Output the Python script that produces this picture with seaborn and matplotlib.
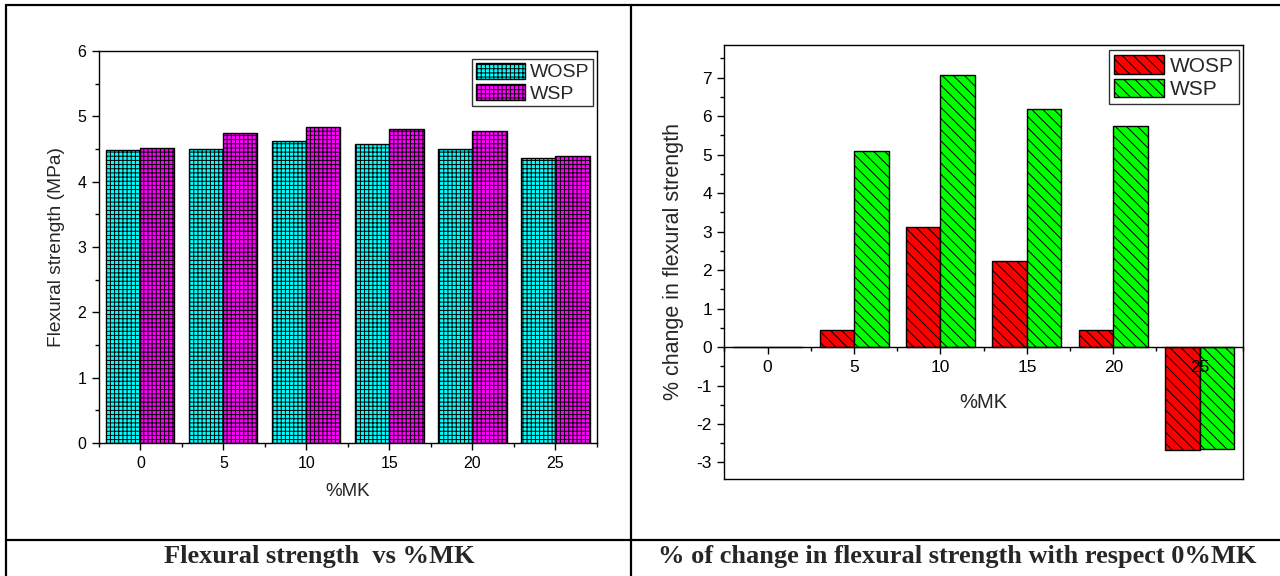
## IMPORTING
import numpy as np
import pandas as pd
import seaborn as sns
import matplotlib.pyplot as plt
import matplotlib.patches as mpatches
from matplotlib.lines import Line2D
from matplotlib.ticker import MultipleLocator


## DATA
mk = ['0', '5', '10', '15', '20', '25']
series = ['WOSP', 'WSP']
strength_wosp = [4.48, 4.50, 4.62, 4.58, 4.50, 4.36]
strength_wsp = [4.52, 4.75, 4.84, 4.80, 4.78, 4.40]
change_wosp = [0.0, 0.45, 3.12, 2.23, 0.45, -2.68]
change_wsp = [0.0, 5.09, 7.08, 6.19, 5.75, -2.65]
captions = ['Flexural strength  vs %MK',
            '% of change in flexural strength with respect 0%MK']


def long_form(a, b):
    return pd.DataFrame({'MK': mk * 2,
                         'series': [series[0]] * len(a) + [series[1]] * len(b),
                         'value': list(a) + list(b)})


df_strength = long_form(strength_wosp, strength_wsp)
df_change = long_form(change_wosp, change_wsp)


## STYLE
sns.set_style('ticks')
plt.rcParams['font.family'] = ['Liberation Sans', 'DejaVu Sans']
plt.rcParams['axes.unicode_minus'] = False
plt.rcParams['hatch.linewidth'] = 0.7
plt.rcParams['hatch.color'] = 'black'


def style_axis(ax, labelsize, major_len, minor_len):
    for sp in ax.spines.values():
        sp.set_color('black')
        sp.set_linewidth(1)
    ax.tick_params(which='major', direction='out', length=major_len, width=1,
                   color='black', labelsize=labelsize, pad=4, labelcolor='black')
    ax.tick_params(which='minor', direction='out', length=minor_len, width=1,
                   color='black')
    ax.xaxis.set_minor_locator(MultipleLocator(1, offset=0.5))
    ax.yaxis.set_minor_locator(MultipleLocator(0.5))


def add_hatch(ax, hatch):
    for cont in ax.containers:
        for bar in cont:
            bar.set_hatch(hatch)
            bar.set_zorder(1)


fig = plt.figure(figsize=(12.8, 5.76), dpi=100)


## LEFT: FLEXURAL STRENGTH
ax1 = fig.add_axes([0.0773, 0.2309, 0.3891, 0.6806])
colors1 = ['#00FFFF', '#FF00FF']
sns.barplot(data=df_strength, x='MK', y='value', hue='series', palette=colors1,
            saturation=1, edgecolor='black', linewidth=1, width=0.82,
            legend=False, ax=ax1)
add_hatch(ax1, '++++')
ax1.set_xlim(-0.5, 5.5)
ax1.set_ylim(0, 6)
style_axis(ax1, 11.5, 5, 3)
ax1.set_xlabel('%MK', fontsize=13.5, va='center')
ax1.set_ylabel('Flexural strength (MPa)', fontsize=13.8, va='center')
ax1.xaxis.set_label_coords(0.5, -0.124)
ax1.yaxis.set_label_coords(-0.085, 0.5)
h1 = [mpatches.Patch(facecolor=c, edgecolor='black', hatch='++++', label=s)
      for c, s in zip(colors1, series)]
ax1.legend(handles=h1, loc='upper right', bbox_to_anchor=(0.992, 0.98),
           borderaxespad=0, fontsize=14, handlelength=2.5, handleheight=0.9,
           handletextpad=0.25, borderpad=0.2, labelspacing=0.12,
           fancybox=False, edgecolor='#333333', framealpha=1)


## RIGHT: PERCENT CHANGE
ax2 = fig.add_axes([0.566, 0.1684, 0.405, 0.7535])
colors2 = ['#FF0000', '#00FF00']
sns.barplot(data=df_change, x='MK', y='value', hue='series', palette=colors2,
            saturation=1, edgecolor='black', linewidth=1, width=0.8,
            legend=False, ax=ax2)
add_hatch(ax2, '\\\\\\')
ax2.set_xlim(-0.5, 5.5)
ax2.set_ylim(-3.43, 7.85)
ax2.set_yticks(range(-3, 8))
style_axis(ax2, 12.5, 5, 3)
ax2.spines['bottom'].set_position(('data', 0))
ax2.spines['bottom'].set_zorder(5)
ax2.xaxis.set_zorder(5)
ax2.plot([0, 1], [0, 0], transform=ax2.transAxes, color='black', lw=1,
         clip_on=False)
ax2.set_xlabel('%MK', fontsize=14.5, va='center')
ax2.set_ylabel('% change in flexural strength', fontsize=15.5, va='center')
ax2.xaxis.set_label_coords(0.5, 0.177)
ax2.yaxis.set_label_coords(-0.098, 0.5)
h2 = [mpatches.Patch(facecolor=c, edgecolor='black', hatch='\\\\\\', label=s)
      for c, s in zip(colors2, series)]
ax2.legend(handles=h2, loc='upper right', bbox_to_anchor=(0.9923, 0.9885),
           borderaxespad=0, fontsize=15, handlelength=2.4, handleheight=1.0,
           handletextpad=0.25, borderpad=0.25, labelspacing=0.15,
           fancybox=False, edgecolor='#333333', framealpha=1)


## TABLE LINES AND CAPTIONS
lw = 1.6
fig.add_artist(Line2D([6 / 1280, 1], [1 - 4.5 / 576] * 2, color='black', lw=lw))
fig.add_artist(Line2D([6 / 1280, 1], [1 - 539.5 / 576] * 2, color='black', lw=lw))
fig.add_artist(Line2D([6.3 / 1280] * 2, [0, 1 - 4.5 / 576], color='black', lw=lw))
fig.add_artist(Line2D([631 / 1280] * 2, [0, 1 - 4.5 / 576], color='black', lw=lw))

for xc, txt in zip([319 / 1280, 957.5 / 1280], captions):
    fig.text(xc, 1 - 557 / 576, txt, ha='center', va='center', fontsize=19,
             fontweight='bold', family=['Liberation Serif', 'DejaVu Serif'])

fig.savefig('out.png', dpi=100)
